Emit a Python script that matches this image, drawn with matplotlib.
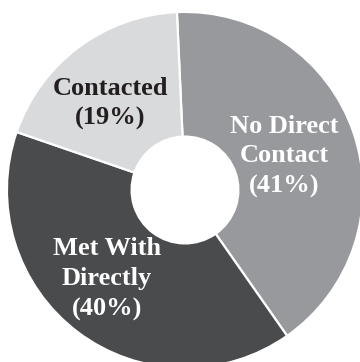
import matplotlib
matplotlib.use("Agg")
import matplotlib.pyplot as plt

# ---------------------------------------------------------------------------
# Data
# ---------------------------------------------------------------------------
categories = ["No Direct\nContact", "Met With\nDirectly", "Contacted"]
shares     = [41, 40, 19]
colors     = ["#98999c", "#4a4b4d", "#d9dadb"]
text_cols  = ["white", "white", "#231f20"]
label_pos  = [(0.556, 0.19), (-0.438, -0.50), (-0.42, 0.485)]

fig = plt.figure(figsize=(3.6, 3.62), dpi=100)
ax = fig.add_axes([0, 0, 1, 1])

ax.pie(
    shares,
    colors=colors,
    startangle=92.6,
    counterclock=False,
    radius=1.0,
    wedgeprops=dict(width=0.70, edgecolor="white", linewidth=1.6),
)

for name, val, pos, tc in zip(categories, shares, label_pos, text_cols):
    ax.text(
        pos[0], pos[1], f"{name}\n({val}%)",
        ha="center", va="center", color=tc,
        fontsize=19, fontweight="bold", family="Liberation Serif",
        linespacing=1.38,
    )

ax.set_xlim(-1.039, 0.983)
ax.set_ylim(-0.966, 1.067)
ax.set_aspect("auto")
ax.axis("off")

fig.savefig("out.png", dpi=100)
